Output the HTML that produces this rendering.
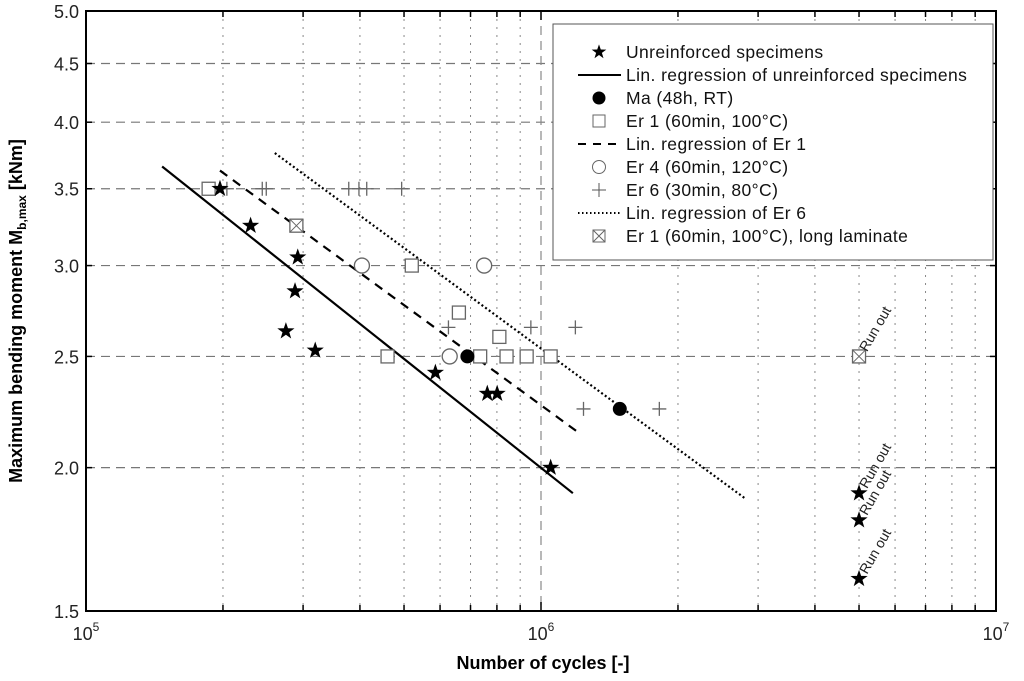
<!DOCTYPE html>
<html><head><meta charset="utf-8"><style>
html,body{margin:0;padding:0;background:#fff;width:1024px;height:681px;overflow:hidden}
svg{font-family:"Liberation Sans",sans-serif}
</style></head><body>
<svg id="chart" width="1024" height="681">
<defs>
<symbol id="star" viewBox="-10 -10 20 20" overflow="visible"><path d="M0,-9 L2.1,-2.9 L8.6,-2.8 L3.4,1.1 L5.3,7.3 L0,3.6 L-5.3,7.3 L-3.4,1.1 L-8.6,-2.8 L-2.1,-2.9Z" fill="#000"/></symbol>
</defs>
<g id="grid"></g>
<g id="marks"></g>
<g id="axes"></g>
<text x="543" y="669" font-size="18" font-weight="bold" text-anchor="middle">Number of cycles [-]</text>
<text transform="translate(22,311) rotate(-90)" font-size="18" font-weight="bold" text-anchor="middle">Maximum bending moment M<tspan font-size="12" dy="4">b,max</tspan><tspan dy="-4"> [kNm]</tspan></text>
<g>
<rect x="553" y="24" width="440" height="236" fill="#fff" stroke="#555" stroke-width="1"/>
<g font-size="17.5" fill="#111" letter-spacing="0.4">
<use href="#star" x="-10" y="-10" width="20" height="20" transform="translate(599,52) scale(0.85)"/>
<text x="626" y="58">Unreinforced specimens</text>
<line x1="578" y1="75" x2="621" y2="75" stroke="#000" stroke-width="2"/>
<text x="626" y="81">Lin. regression of unreinforced specimens</text>
<circle cx="599" cy="98" r="6.5" fill="#000"/>
<text x="626" y="104">Ma (48h, RT)</text>
<rect x="593" y="115" width="12" height="12" fill="none" stroke="#666"/>
<text x="626" y="127">Er 1 (60min, 100°C)</text>
<line x1="578" y1="144" x2="621" y2="144" stroke="#000" stroke-width="2" stroke-dasharray="8,7"/>
<text x="626" y="150">Lin. regression of Er 1</text>
<circle cx="599" cy="167" r="6.5" fill="none" stroke="#666"/>
<text x="626" y="173">Er 4 (60min, 120°C)</text>
<path d="M592,190 h14 M599,183 v14" stroke="#555"/>
<text x="626" y="196">Er 6 (30min, 80°C)</text>
<line x1="578" y1="213" x2="621" y2="213" stroke="#000" stroke-width="2" stroke-dasharray="1.5,2.5"/>
<text x="626" y="219">Lin. regression of Er 6</text>
<rect x="593" y="230" width="12" height="12" fill="none" stroke="#666"/><path d="M593,230 L605,242 M605,230 L593,242" stroke="#666"/>
<text x="626" y="242">Er 1 (60min, 100°C), long laminate</text>
</g></g>
</svg>
<script>
const starX=[1.97e5,2.30e5,2.92e5,2.88e5,2.75e5,3.19e5,5.86e5,7.62e5,8.01e5,1.05e6,5.0e6,5.0e6,5.0e6];
const starY=[3.5,3.25,3.05,2.85,2.63,2.53,2.42,2.32,2.32,2.0,1.9,1.8,1.6];
const maX=[6.89e5,1.49e6];
const maY=[2.5,2.25];
const er1X=[1.86e5,5.2e5,4.6e5,6.6e5,7.35e5,8.1e5,8.4e5,9.3e5,1.05e6];
const er1Y=[3.5,3.0,2.5,2.73,2.5,2.6,2.5,2.5,2.5];
const er1LongX=[2.9e5,5.0e6];
const er1LongY=[3.25,2.5];
const er4X=[4.04e5,7.5e5,6.3e5];
const er4Y=[3.0,3.0,2.5];
const er6X=[2.04e5,2.44e5,2.49e5,3.78e5,3.98e5,4.14e5,4.94e5,6.26e5,9.5e5,1.19e6,1.24e6,1.82e6];
const er6Y=[3.5,3.5,3.5,3.5,3.5,3.5,3.5,2.65,2.65,2.65,2.25,2.25];
const regUnX=[1.47e5,1.175e6];
const regUnY=[3.66,1.9];
const regEr1X=[1.97e5,1.22e6];
const regEr1Y=[3.63,2.14];
const regEr6X=[2.6e5,2.81e6];
const regEr6Y=[3.76,1.88];
const yTicks=[1.5,2.0,2.5,3.0,3.5,4.0,4.5,5.0];
const xDecades=[5,6,7];
const runOutX=[5.0e6,5.0e6,5.0e6,5.0e6];
const runOutY=[2.5,1.9,1.8,1.6];

const L=86,R=996,T=11,B=611;
const X=v=>L+(Math.log10(v)-5)/2*(R-L);
const Y=v=>B-(Math.log10(v)-Math.log10(1.5))/(Math.log10(5)-Math.log10(1.5))*(B-T);
const NS="http://www.w3.org/2000/svg";
function mk(tag,attrs,parent){const e=document.createElementNS(NS,tag);for(const k in attrs)e.setAttribute(k,attrs[k]);parent.appendChild(e);return e;}
const grid=document.getElementById('grid'),marks=document.getElementById('marks'),axes=document.getElementById('axes');

yTicks.forEach(t=>{if(t>1.5&&t<5){const l=mk('line',{x1:L,x2:R,y1:Y(t),y2:Y(t),stroke:'#777','stroke-width':1.2,'stroke-dasharray':'9,6'},grid);

}});
[5,6].forEach(d=>{for(let m=1;m<10;m++){const v=m*Math.pow(10,d);const x=X(v);if(x<=L||x>=R)continue;
const l=mk('line',{x1:x,x2:x,y1:T,y2:B,stroke:'#888','stroke-width':m===1?1.2:1,'stroke-dasharray':m===1?'9,6':'2,6'},grid);

}});

function line(xs,ys,dash,name){const l=mk('line',{x1:X(xs[0]),y1:Y(ys[0]),x2:X(xs[1]),y2:Y(ys[1]),stroke:'#000','stroke-width':2.2},marks);
if(dash)l.setAttribute('stroke-dasharray',dash);

}
line(regUnX,regUnY,null,'regression-unreinforced');
line(regEr1X,regEr1Y,'9,7','regression-er1');
line(regEr6X,regEr6Y,'2,2.5','regression-er6');

er6X.forEach((v,i)=>{const x=X(v),y=Y(er6Y[i]);const p=mk('path',{d:`M${x-7},${y}h14M${x},${y-7}v14`,stroke:'#666','stroke-width':1.3},marks);

});
er1X.forEach((v,i)=>{const x=X(v),y=Y(er1Y[i]);const r=mk('rect',{x:x-6.5,y:y-6.5,width:13,height:13,fill:'#fff',stroke:'#666','stroke-width':1.3},marks);

});
er1LongX.forEach((v,i)=>{const x=X(v),y=Y(er1LongY[i]);const g=mk('g',{},marks);


mk('rect',{x:x-6.5,y:y-6.5,width:13,height:13,fill:'#fff',stroke:'#666','stroke-width':1.3},g);
mk('path',{d:`M${x-6.5},${y-6.5}L${x+6.5},${y+6.5}M${x+6.5},${y-6.5}L${x-6.5},${y+6.5}`,stroke:'#666'},g);});
er4X.forEach((v,i)=>{const c=mk('circle',{cx:X(v),cy:Y(er4Y[i]),r:7.5,fill:'#fff',stroke:'#666','stroke-width':1.3},marks);

});
maX.forEach((v,i)=>{const c=mk('circle',{cx:X(v),cy:Y(maY[i]),r:7,fill:'#000'},marks);

});
starX.forEach((v,i)=>{const u=mk('use',{href:'#star',x:-10,y:-10,width:20,height:20,transform:`translate(${X(v)},${Y(starY[i])})`},marks);

});
runOutX.forEach((v,i)=>{const t=mk('text',{transform:`translate(${X(v)+8},${Y(runOutY[i])-4}) rotate(-60)`,'font-size':14,fill:'#222'},marks);t.textContent='Run out';

});

mk('rect',{x:L,y:T,width:R-L,height:B-T,fill:'none',stroke:'#000','stroke-width':2},axes);
yTicks.forEach(t=>{const y=Y(t);mk('line',{x1:L,x2:L+6,y1:y,y2:y,stroke:'#000','stroke-width':1.5},axes);mk('line',{x1:R-6,x2:R,y1:y,y2:y,stroke:'#000','stroke-width':1.5},axes);
const tx=mk('text',{x:L-7,y:y+7,'font-size':18,'text-anchor':'end',fill:'#222'},axes);tx.textContent=t.toFixed(1);

});
[5,6].forEach(d=>{for(let m=1;m<10;m++){const x=X(m*Math.pow(10,d));const len=m===1?9:6;
mk('line',{x1:x,x2:x,y1:B,y2:B-len,stroke:'#000','stroke-width':1.5},axes);mk('line',{x1:x,x2:x,y1:T,y2:T+len,stroke:'#000','stroke-width':1.5},axes);}});
xDecades.forEach(d=>{const t=mk('text',{x:X(Math.pow(10,d)),y:640,'font-size':18,'text-anchor':'middle',fill:'#222'},axes);


t.innerHTML='10<tspan font-size="12" dy="-9">'+d+'</tspan>';});
</script>
</body></html>
